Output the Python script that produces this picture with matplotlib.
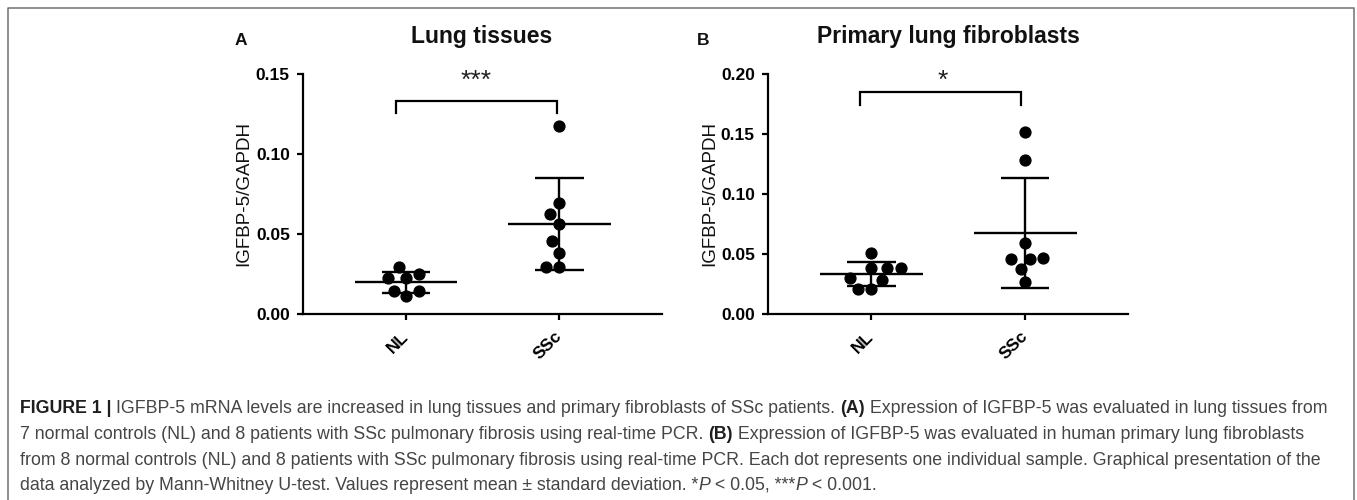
import numpy as np
import matplotlib
matplotlib.use("Agg")
import matplotlib.pyplot as plt
from matplotlib.lines import Line2D

# ---------------- data ----------------
groups = ["NL", "SSc"]
lung_nl = [0.0296, 0.0248, 0.0223, 0.0223, 0.0146, 0.0146, 0.0115]
lung_ssc = [0.1173, 0.0691, 0.0624, 0.0565, 0.0455, 0.0384, 0.0296, 0.0296]
fib_nl = [0.0506, 0.0387, 0.0387, 0.0387, 0.0300, 0.0284, 0.0211, 0.0211]
fib_ssc = [0.1516, 0.1285, 0.0595, 0.0465, 0.0456, 0.0456, 0.0373, 0.0267]
lung_yticks = [0.00, 0.05, 0.10, 0.15]
fib_yticks = [0.00, 0.05, 0.10, 0.15, 0.20]
titles = ["Lung tissues", "Primary lung fibroblasts"]
panel_letters = ["A", "B"]
stars = ["***", "*"]
ylabel = "IGFBP-5/GAPDH"

caption_lines = [
    [("FIGURE 1 | ", "bold", "normal"),
     ("IGFBP-5 mRNA levels are increased in lung tissues and primary fibroblasts of SSc patients. ", "normal", "normal"),
     ("(A)", "bold", "normal"),
     (" Expression of IGFBP-5 was evaluated in lung tissues from", "normal", "normal")],
    [("7 normal controls (NL) and 8 patients with SSc pulmonary fibrosis using real-time PCR. ", "normal", "normal"),
     ("(B)", "bold", "normal"),
     (" Expression of IGFBP-5 was evaluated in human primary lung fibroblasts", "normal", "normal")],
    [("from 8 normal controls (NL) and 8 patients with SSc pulmonary fibrosis using real-time PCR. Each dot represents one individual sample. Graphical presentation of the", "normal", "normal")],
    [("data analyzed by Mann-Whitney U-test. Values represent mean \u00b1 standard deviation. *", "normal", "normal"),
     ("P", "normal", "italic"),
     (" < 0.05, ***", "normal", "normal"),
     ("P", "normal", "italic"),
     (" < 0.001.", "normal", "normal")],
]

# ---------------- figure ----------------
W, H = 1357, 500
fig = plt.figure(figsize=(W / 100, H / 100), dpi=100)
fig.patch.set_facecolor("white")

def fx(px):
    return px / W

def fy(py):
    return 1 - py / H

# outer frame (open at the bottom, as in the cropped screenshot)
fig.add_artist(Line2D([fx(7.5), fx(7.5), fx(1354), fx(1354)],
                      [0, fy(8), fy(8), 0], transform=fig.transFigure,
                      color="#707070", lw=1.1))

FONT = ["Liberation Sans", "DejaVu Sans"]


def swarm_offsets(yp, d):
    """Greedy beeswarm in pixel space: returns x offsets (pixels)."""
    order = np.argsort(yp, kind="stable")
    placed = []
    xs = np.zeros(len(yp))
    for i in order:
        y = yp[i]
        cands = [0.0]
        for (px, py) in placed:
            dy = abs(py - y)
            if dy < d:
                dx = np.sqrt(d * d - dy * dy)
                cands += [px - dx, px + dx]
        cands.sort(key=abs)
        for c in cands:
            if all((c - px) ** 2 + (y - py) ** 2 >= d * d - 1e-6 for px, py in placed):
                xs[i] = c
                break
        placed.append((xs[i], y))
    return xs


def draw_panel(ax, datasets, yticks, bracket_y, bracket_drop, star_text, star_x, star_y, bx0, bx1):
    ax.set_xlim(-0.673, 1.67)
    ax.set_ylim(yticks[0], yticks[-1])
    for s in ["top", "right"]:
        ax.spines[s].set_visible(False)
    for s in ["left", "bottom"]:
        ax.spines[s].set_linewidth(1.6)
    ax.set_yticks(yticks)
    ax.set_yticklabels([f"{t:.2f}" for t in yticks])
    ax.set_xticks(range(len(groups)))
    ax.set_xticklabels(groups, rotation=45, ha="right", va="center",
                       rotation_mode="anchor")
    ax.tick_params(axis="both", direction="out", length=4.5, width=1.6, pad=5)
    ax.tick_params(axis="x", pad=10)
    for lab in ax.get_xticklabels() + ax.get_yticklabels():
        lab.set_fontfamily(FONT)
        lab.set_fontweight("bold")
        lab.set_fontsize(12.5)

    ppu = ax.transData.transform((1, 0))[0] - ax.transData.transform((0, 0))[0]
    for i, vals in enumerate(datasets):
        vals = np.asarray(vals)
        m = vals.mean()
        sd = vals.std(ddof=1)
        ax.hlines(m, i - 0.335, i + 0.335, color="black", lw=1.7, zorder=2)
        ax.hlines([m - sd, m + sd], i - 0.158, i + 0.158, color="black", lw=1.7, zorder=2)
        ax.vlines(i, m - sd, m + sd, color="black", lw=1.7, zorder=2)
        yp = ax.transData.transform(np.column_stack([np.zeros_like(vals), vals]))[:, 1]
        offs = swarm_offsets(yp, 13.5) / ppu
        ax.plot(i + offs, vals, "o", ms=7.8, color="black", mec="black",
                zorder=3, clip_on=False)

    ax.plot([bx0, bx0, bx1, bx1],
            [bracket_y - bracket_drop, bracket_y, bracket_y, bracket_y - bracket_drop],
            color="black", lw=1.6, clip_on=False, solid_joinstyle="miter")
    ax.text(star_x, star_y, star_text, ha="center", va="center", fontsize=19,
            family=FONT, color="#222222", clip_on=False)


axA = fig.add_axes([fx(303), fy(314), 359 / W, 240 / H])
axB = fig.add_axes([fx(768), fy(314), 360 / W, 240 / H])
draw_panel(axA, [lung_nl, lung_ssc], lung_yticks, 0.1334, 0.0078, stars[0], 0.458, 0.1455, -0.065, 0.985)
draw_panel(axB, [fib_nl, fib_ssc], fib_yticks, 0.185, 0.0106, stars[1], 0.467, 0.1945, -0.074, 0.972)

# titles, panel letters and y labels
for cx, t in zip([482, 948], titles):
    fig.text(fx(cx), fy(43), t, ha="center", va="baseline", fontsize=16.5,
             fontweight="bold", family=FONT, color="#111111")
for lx, t in zip([235, 697], panel_letters):
    fig.text(fx(lx), fy(45), t, ha="left", va="baseline", fontsize=12.5,
             fontweight="bold", family=FONT, color="#111111")
for lx in [244, 710]:
    fig.text(fx(lx), fy(194), ylabel, ha="center", va="center", rotation=90,
             fontsize=13.5, family=FONT, color="#111111")

# ---------------- caption ----------------
CAP_FONT = ["Liberation Sans Narrow", "Liberation Sans", "DejaVu Sans"]
renderer = fig.canvas.get_renderer()


def run_width(s, size, weight, style):
    t1 = fig.text(0, 0, "x" + s + "x", fontsize=size, fontweight=weight,
                  fontstyle=style, family=CAP_FONT)
    t2 = fig.text(0, 0, "xx", fontsize=size, fontweight=weight,
                  fontstyle=style, family=CAP_FONT)
    w = t1.get_window_extent(renderer).width - t2.get_window_extent(renderer).width
    t1.remove()
    t2.remove()
    return w


base = 14.0
w1 = sum(run_width(s, base, wt, st) for s, wt, st in caption_lines[0])
cap_size = base * (1317 - 2) / w1

baselines = [413, 439, 465, 490]
for line, by in zip(caption_lines, baselines):
    x = 20.0
    for s, wt, st in line:
        col = "#1e1e1e" if wt == "bold" else "#454545"
        fig.text(fx(x), fy(by), s, fontsize=cap_size, fontweight=wt, fontstyle=st,
                 family=CAP_FONT, color=col, ha="left", va="baseline")
        x += run_width(s, cap_size, wt, st)

fig.savefig("out.png", dpi=100, facecolor="white")
